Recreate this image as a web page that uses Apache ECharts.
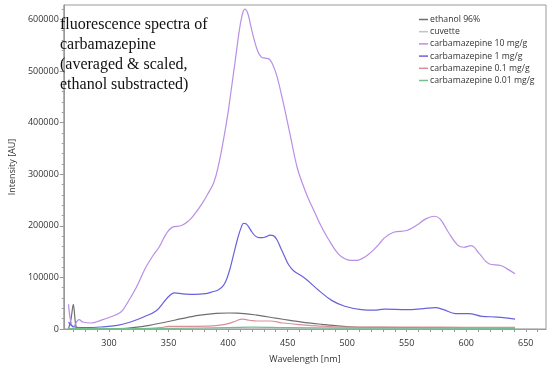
<!DOCTYPE html>
<html>
<head>
<meta charset="utf-8">
<script src="https://cdn.jsdelivr.net/npm/echarts@6/dist/echarts.min.js"></script>
<style>html,body{margin:0;padding:0;background:#fff}#c{width:550px;height:369px}</style>
</head>
<body>
<div id="c"></div>
<script>
// ---- data ----
const seriesNames = ['ethanol 96%', 'cuvette', 'carbamazepine 10 mg/g', 'carbamazepine 1 mg/g', 'carbamazepine 0.1 mg/g', 'carbamazepine 0.01 mg/g'];

const wlEthanol = [266, 268, 270, 272.5, 276, 290, 310, 320, 334, 348, 361, 375, 390, 400, 408, 424, 440, 452, 465, 479, 492, 506, 520, 531, 560, 600, 641];
const valEthanol = [500, 18000, 48000, 3000, 500, 300, 800, 2700, 7200, 13500, 20000, 26500, 30300, 31000, 30900, 27000, 21000, 16800, 12500, 9000, 6000, 3900, 3200, 3000, 2500, 2000, 1500];

const wlCuvette = [266, 300, 400, 500, 600, 661];
const valCuvette = [500, 300, 600, 800, 600, 500];

const wl10 = [266, 270, 275, 278, 285, 293, 301, 310, 315, 323, 331, 337, 342, 348, 353, 361, 367, 372, 378, 383, 388, 392, 396, 400, 403, 406, 409, 411.5, 414, 416.5, 419, 422, 425, 428, 431, 434, 437, 441, 446, 452, 458, 462, 467, 473, 478, 484, 492, 498, 503, 508, 512, 517, 522, 527, 531, 539, 550, 558, 566, 573, 578, 585, 593, 598, 604, 611, 619, 629, 634, 641];
const val10 = [48000, 4000, 18000, 13600, 11600, 16800, 23300, 33000, 49000, 81000, 120000, 142500, 158500, 184500, 197000, 200500, 210000, 223000, 242500, 262000, 284000, 318000, 365000, 420000, 470000, 520000, 572000, 605000, 620000, 612000, 588000, 560000, 538000, 527000, 525000, 524000, 515000, 490000, 442000, 377500, 313000, 285000, 255000, 225000, 200000, 175000, 147000, 136000, 133000, 133000, 136000, 143000, 153000, 165000, 176000, 187500, 191000, 200500, 213500, 218500, 213500, 187500, 162000, 158500, 161500, 146000, 126500, 123000, 117000, 107000];

const wl1 = [266, 271, 280, 293, 307, 318, 329, 340, 346, 351, 355, 362, 372, 381, 386, 392, 396, 399, 402, 405, 408, 411, 413, 415, 417, 420, 423, 426, 429, 432, 435, 438, 441, 444, 447, 451, 455, 465, 476, 487, 498, 512, 523, 531, 550, 564, 574, 581, 591, 602, 613, 626, 641];
const val1 = [13500, 3900, 2700, 3900, 7200, 13500, 23200, 36000, 52000, 65000, 70000, 68000, 67000, 68500, 71500, 76000, 84000, 98000, 120000, 148000, 175000, 197000, 205000, 204000, 199000, 188000, 180000, 177000, 177000, 179000, 182000, 181000, 173000, 158000, 143000, 124000, 113000, 97500, 75000, 55500, 44000, 37500, 36500, 38700, 37500, 39500, 41400, 37500, 29800, 29800, 24600, 23200, 19300];

const wl01 = [266, 300, 330, 343, 350, 365, 383, 395, 400, 406, 412, 418, 424, 435, 446, 465, 480, 492, 520, 560, 600, 641];
const val01 = [500, 300, 800, 2500, 5000, 5200, 5500, 8000, 10400, 15000, 19300, 17000, 15500, 15500, 11600, 7700, 5500, 3900, 3500, 3500, 3300, 3000];

const wl001 = [266, 300, 350, 400, 420, 450, 500, 560, 641];
const val001 = [800, 600, 1200, 2800, 3500, 2500, 1800, 1500, 1300];

const xTickLabels = [300, 350, 400, 450, 500, 550, 600, 650];
const xMinorTicks = [270, 280, 290, 300, 310, 320, 330, 340, 350, 360, 370, 380, 390, 400, 410, 420, 430, 440, 450, 460, 470, 480, 490, 500, 510, 520, 530, 540, 550, 560, 570, 580, 590, 600, 610, 620, 630, 640, 650, 660];
const yTickLabels = [0, 100000, 200000, 300000, 400000, 500000, 600000];
const yMinorTicks = [0, 20000, 40000, 60000, 80000, 100000, 120000, 140000, 160000, 180000, 200000, 220000, 240000, 260000, 280000, 300000, 320000, 340000, 360000, 380000, 400000, 420000, 440000, 460000, 480000, 500000, 520000, 540000, 560000, 580000, 600000, 620000];

const titleLines = ['fluorescence spectra of', 'carbamazepine', '(averaged & scaled,', 'ethanol substracted)'];

// ---- chart ----
const colors = ['#6f6f6f', '#c4c4c4', '#b88ee6', '#6a62dc', '#d98f99', '#72bf8e'];
const pairs = [[wlEthanol, valEthanol], [wlCuvette, valCuvette], [wl10, val10], [wl1, val1], [wl01, val01], [wl001, val001]];
const smoothness = [0.3, 0.3, 0.4, 0.4, 0.5, 0.5];

const font = 'Open Sans';
const chart = echarts.init(document.getElementById('c'), null, {renderer: 'canvas'});
chart.setOption({
  animation: false,
  color: colors,
  title: {
    text: titleLines.join('\n'),
    left: 60, top: 15, padding: 0,
    textStyle: {fontFamily: 'Liberation Serif', fontSize: 16, fontWeight: 'normal', color: '#111', lineHeight: 20}
  },
  legend: {
    orient: 'vertical', left: 419, top: 15, padding: 0,
    itemWidth: 9, itemHeight: 1.5, itemGap: 3.2, icon: 'rect',
    textStyle: {fontFamily: font, fontSize: 8.7, color: '#333', padding: [0, 0, 0, -3]},
    data: seriesNames
  },
  grid: {left: 52, right: 4, top: 5, bottom: 40, show: true, borderColor: '#999', borderWidth: 1},
  xAxis: {
    type: 'value', min: 262, max: 667,
    name: 'Wavelength [nm]', nameLocation: 'middle', nameGap: 26,
    nameTextStyle: {fontFamily: font, fontSize: 9, color: '#333'},
    axisLine: {lineStyle: {color: '#999'}},
    axisTick: {show: true, length: 3, lineStyle: {color: '#999'}, customValues: xMinorTicks},
    axisLabel: {fontFamily: font, fontSize: 9, color: '#333', margin: 10, customValues: xTickLabels},
    splitLine: {show: false}
  },
  yAxis: [{
    type: 'value', min: 0, max: 628000,
    name: 'Intensity [AU]', nameLocation: 'middle', nameGap: 37,
    nameTextStyle: {fontFamily: font, fontSize: 9, color: '#333'},
    axisLine: {show: true, lineStyle: {color: '#999'}},
    axisTick: {show: true, length: 4, lineStyle: {color: '#999'}, customValues: yTickLabels},
    axisLabel: {fontFamily: font, fontSize: 9, color: '#333', margin: 5, customValues: yTickLabels, formatter: v => String(v)},
    splitLine: {show: false}
  }, {
    type: 'value', min: 0, max: 628000, position: 'left',
    axisLine: {show: false},
    axisTick: {show: true, length: 2, lineStyle: {color: '#999'}, customValues: yMinorTicks},
    axisLabel: {show: false},
    splitLine: {show: false}
  }],
  series: seriesNames.map((n, i) => ({
    name: n, type: 'line', yAxisIndex: 0,
    data: pairs[i][0].map((w, j) => [w, pairs[i][1][j]]),
    smooth: smoothness[i], showSymbol: false, symbol: 'none',
    lineStyle: {width: 1.2, color: colors[i]},
    itemStyle: {color: colors[i]}
  }))
});
</script>
</body>
</html>
